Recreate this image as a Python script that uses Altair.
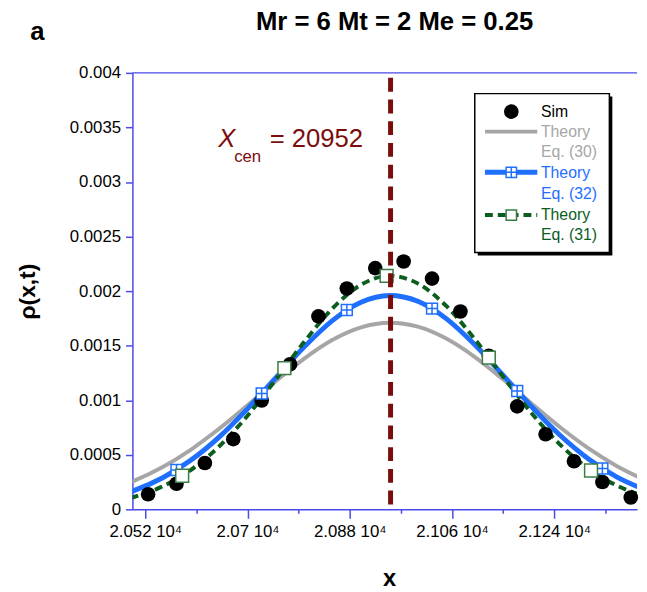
import altair as alt
import pandas as pd

# ---------------- data ----------------
x_grid = [20450, 20500, 20550, 20600, 20650, 20700, 20750, 20800, 20850, 20900,
          20950, 21000, 21050, 21100, 21150, 21200, 21250, 21300, 21350, 21400]
theory30 = [0.000168, 0.000261, 0.000386, 0.000546, 0.000738, 0.000953, 0.001174, 0.001382,
            0.001554, 0.001668, 0.001710, 0.001674, 0.001565, 0.001398, 0.001192, 0.000971,
            0.000755, 0.000561, 0.000398, 0.000269]
theory32 = [0.000098, 0.000172, 0.000287, 0.000449, 0.000662, 0.000921, 0.001206, 0.001489,
            0.001732, 0.001898, 0.001960, 0.001907, 0.001748, 0.001510, 0.001230, 0.000943,
            0.000681, 0.000464, 0.000298, 0.000180]
theory31 = [0.000057, 0.000113, 0.000209, 0.000360, 0.000576, 0.000858, 0.001190, 0.001535,
            0.001843, 0.002058, 0.002140, 0.002070, 0.001864, 0.001562, 0.001217, 0.000883,
            0.000596, 0.000375, 0.000219, 0.000119]

sim_x = [20525, 20575, 20625, 20675, 20725, 20775, 20825, 20875, 20925, 20975,
         21025, 21075, 21125, 21175, 21225, 21275, 21325, 21375]
sim_y = [0.000138, 0.000235, 0.000425, 0.000643, 0.000998, 0.001330, 0.001768, 0.002024,
         0.002211, 0.002271, 0.002115, 0.001813, 0.001406, 0.000944, 0.000688, 0.000441,
         0.000251, 0.000109]

m32_x = [20575, 20725, 20875, 21025, 21175, 21325]
m32_y = [0.000361, 0.001062, 0.001827, 0.001840, 0.001085, 0.000374]
m31_x = [20585, 20765, 20945, 21125, 21305]
m31_y = [0.000308, 0.001294, 0.002139, 0.001391, 0.000356]

x_cen = 20952
y_ticks = [0, 0.0005, 0.001, 0.0015, 0.002, 0.0025, 0.003, 0.0035, 0.004]
x_ticks = [20520, 20610, 20700, 20790, 20880, 20970, 21060, 21150, 21240, 21330]

# ---------------- styles ----------------
FONT = "Liberation Sans"
AXIS_BLUE = "#4a4aea"
GREY = "#a6a6a6"
BLUE = "#1f6fff"
GREEN = "#0b5e1e"
MARK_GREEN = "#3a7d44"
RED = "#7b0c0c"
W, H = 511, 442
XDOM = [20497.4, 21386]

xscale = alt.Scale(domain=XDOM, nice=False, zero=False)
yscale = alt.Scale(domain=[0, 0.004], nice=False, zero=False)

x_axis = alt.Axis(
    values=x_ticks,
    labelExpr="(datum.value - 20520) % 180 == 0 ? format(datum.value / 10000, '.4~f') + ' 10⁴' : ''",
    tickSize={"condition": {"test": "(datum.value - 20520) % 180 == 0", "value": 9}, "value": 4},
    tickColor=AXIS_BLUE, domainColor=AXIS_BLUE, domainWidth=1.5, tickWidth=1.5,
    labelFont=FONT, labelFontSize=17, labelColor="black", labelPadding=6,
    labelFlush=False, labelOverlap=False, grid=False,
    title="x", titleFont=FONT, titleFontSize=24, titleFontWeight="bold", titleColor="black",
    titleX=260, titleY=77, titleBaseline="alphabetic",
)
y_axis = alt.Axis(
    values=y_ticks, format=".4~f",
    tickSize=7, tickColor=AXIS_BLUE, domainColor=AXIS_BLUE, domainWidth=1.5, tickWidth=1.5,
    labelFont=FONT, labelFontSize=17, labelColor="black", labelPadding=5, labelFlush=False,
    labelOverlap=False, grid=False,
    title="ρ(x,t)", titleFont=FONT, titleFontSize=23, titleFontWeight="bold", titleColor="black",
    titleX=-106, titleY=221, titleAngle=270, titleBaseline="middle",
)

X = alt.X("x:Q", scale=xscale, axis=x_axis)
Y = alt.Y("y:Q", scale=yscale, axis=y_axis)

curves = pd.DataFrame({"x": x_grid, "g": theory30, "b": theory32, "gr": theory31})
sim = pd.DataFrame({"x": sim_x, "y": sim_y})
m32 = pd.DataFrame({"x": m32_x, "y": m32_y})
m31 = pd.DataFrame({"x": m31_x, "y": m31_y})

def curve(col, **kw):
    d = curves[["x", col]].rename(columns={col: "y"})
    return alt.Chart(d).mark_line(interpolate="monotone", clip=True, **kw).encode(x=X, y=Y)

grey_line = curve("g", color=GREY, strokeWidth=4)
blue_line = curve("b", color=BLUE, strokeWidth=5)
green_line = curve("gr", color=GREEN, strokeWidth=4, strokeDash=[8, 5])

CROSS_SQ = "M-1,-1L1,-1L1,1L-1,1Z M0,-1L0,1 M-1,0L1,0"

sim_pts = alt.Chart(sim).mark_point(shape="circle", filled=True, color="black", size=220,
                                    opacity=1).encode(x=X, y=Y)
m32_pts = alt.Chart(m32).mark_point(shape=CROSS_SQ, fill="white", fillOpacity=1, stroke=BLUE,
                                    strokeWidth=1.5, size=121, opacity=1).encode(x=X, y=Y)
m31_pts = alt.Chart(m31).mark_point(shape="square", fill="white", fillOpacity=1, stroke=MARK_GREEN,
                                    strokeWidth=1.5, size=169, opacity=1).encode(x=X, y=Y)

cen = pd.DataFrame({"x": [x_cen], "y": [0.000045], "y2": [0.003973]})
cen_rule = alt.Chart(cen).mark_rule(color=RED, strokeWidth=5, strokeDash=[14, 8]).encode(
    x=X, y=Y, y2="y2:Q")

top_frame = alt.Chart(pd.DataFrame({"y": [0.004]})).mark_rule(color=AXIS_BLUE, strokeWidth=1.5).encode(
    y=Y, x=alt.value(0), x2=alt.value(W))

one = pd.DataFrame({"k": [0]})

def txt(text, x, y, size=16, color="black", weight="normal", style="normal", align="left",
        baseline="alphabetic"):
    return alt.Chart(pd.DataFrame({"t": [text]})).mark_text(
        font=FONT, fontSize=size, color=color, fontWeight=weight, fontStyle=style,
        align=align, baseline=baseline).encode(text="t:N", x=alt.value(x), y=alt.value(y))

# annotation
ann = [
    txt("X", 87, 75, size=26, color=RED, style="italic"),
    txt("cen", 103, 90, size=17, color=RED),
    txt("= 20952", 139, 75, size=26, color=RED),
]

# titles
titles = [
    txt("Mr = 6 Mt = 2 Me = 0.25", 265.5, -43.5, size=26, weight="bold", align="center"),
    txt("a", -103.5, -33, size=26, weight="bold"),
]

# legend
def box(x, x2, y, y2, **kw):
    return alt.Chart(one).mark_rect(**kw).encode(
        x=alt.value(x), x2=alt.value(x2), y=alt.value(y), y2=alt.value(y2))

def seg(y, **kw):
    return alt.Chart(one).mark_rule(**kw).encode(
        x=alt.value(357), x2=alt.value(410), y=alt.value(y))

def sym(y, **kw):
    return alt.Chart(one).mark_point(opacity=1, **kw).encode(x=alt.value(383.7), y=alt.value(y))

legend = [
    box(349.7, 486, 24, 185, fill="black"),
    box(346.7, 483, 21, 182, fill="white", stroke="black", strokeWidth=1.5),
    sym(39.3, shape="circle", filled=True, color="black", size=220),
    txt("Sim", 413.7, 39.3, color="black", baseline="middle"),
    seg(59.5, color=GREY, strokeWidth=4),
    txt("Theory", 413.7, 60, color=GREY, baseline="middle"),
    txt("Eq. (30)", 413.7, 80, color=GREY, baseline="middle"),
    seg(100.7, color=BLUE, strokeWidth=5),
    sym(100.7, shape=CROSS_SQ, fill="white", fillOpacity=1, stroke=BLUE, strokeWidth=1.5, size=110),
    txt("Theory", 413.7, 101, color=BLUE, baseline="middle"),
    txt("Eq. (32)", 413.7, 122.5, color=BLUE, baseline="middle"),
    seg(144, color=GREEN, strokeWidth=4, strokeDash=[8, 5]),
    sym(144, shape="square", fill="white", fillOpacity=1, stroke=MARK_GREEN, strokeWidth=1.5, size=110),
    txt("Theory", 413.7, 144, color=GREEN, baseline="middle"),
    txt("Eq. (31)", 413.7, 164.5, color=GREEN, baseline="middle"),
]

chart = alt.layer(
    top_frame, grey_line, blue_line, green_line, sim_pts, m32_pts, m31_pts, cen_rule,
    *ann, *legend, *titles
).properties(
    width=W, height=H,
    autosize=alt.AutoSizeParams(type="none"),
    padding={"left": 126, "top": 62, "right": 2, "bottom": 80},
    background="white",
).configure_view(stroke=None)

chart.save("out.html", embed_options={"renderer": "svg", "actions": False})
